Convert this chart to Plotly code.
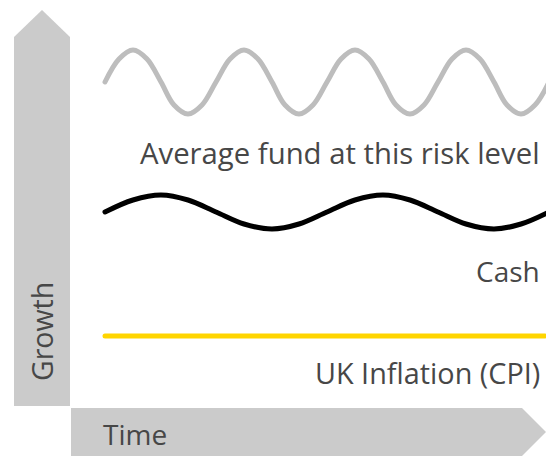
import plotly.graph_objects as go

# ---- data (pixel-based units, y grows upward) ----
fund_x = [105, 119, 133, 147, 161, 174, 188, 202, 216, 230, 244, 258, 272, 285, 299, 313,
          327, 341, 355, 369, 383, 396, 410, 424, 438, 452, 466, 480, 494, 507, 521, 535, 549]
fund_y = [375, 398, 407, 398, 375, 352, 343, 352,
          375, 398, 407, 398, 375, 352, 343, 352,
          375, 398, 407, 398, 375, 352, 343, 352,
          375, 398, 407, 398, 375, 352, 343, 352, 375]

cash_x = [105, 133, 161, 188, 216, 244, 272, 299, 327, 355, 383, 410, 438, 466, 494, 521, 549]
cash_y = [245, 257, 262, 257, 245, 233, 228, 233,
          245, 257, 262, 257, 245, 233, 228, 233, 245]

cpi_x = [105, 545]
cpi_y = [121, 121]

labels = ["Average fund at this risk level", "Cash", "UK Inflation (CPI)"]
axis_labels = ["Growth", "Time"]

W, H = 546, 457
TEXT = "#474747"
ARROW = "#cbcbcb"
FONT = "Open Sans"

fig = go.Figure()

fig.add_trace(go.Scatter(x=fund_x, y=fund_y, mode="lines",
                         line=dict(color="#bdbdbd", width=5, shape="spline", smoothing=1.0),
                         hoverinfo="skip", showlegend=False))
fig.add_trace(go.Scatter(x=cash_x, y=cash_y, mode="lines",
                         line=dict(color="#000000", width=5, shape="spline", smoothing=1.0),
                         hoverinfo="skip", showlegend=False))
fig.add_trace(go.Scatter(x=cpi_x, y=cpi_y, mode="lines",
                         line=dict(color="#ffd500", width=5),
                         hoverinfo="skip", showlegend=False))

# arrows (decorations), in axis coordinates (y up)
def py(v):
    return H - v

vert = (f"M 14 {py(406)} L 14 {py(37)} L 42 {py(10)} L 70 {py(37)} L 70 {py(406)} Z")
horiz = (f"M 71 {py(408)} L 522 {py(408)} L 546 {py(432)} L 522 {py(456)} L 71 {py(456)} Z")
for p in (vert, horiz):
    fig.add_shape(type="path", path=p, xref="x", yref="y",
                  fillcolor=ARROW, line=dict(width=0), layer="below")

label_pos = [(542, py(152.5)), (542, py(271)), (542, py(372.5))]
label_sizes = [29.3, 28, 28.8]
for txt, (x, y), s in zip(labels, label_pos, label_sizes):
    fig.add_annotation(x=x, y=y, xref="x", yref="y", text=txt, showarrow=False,
                       xanchor="right", yanchor="middle",
                       font=dict(family=FONT, size=s, color=TEXT))

fig.add_annotation(x=41.5, y=py(331.5), xref="x", yref="y", text=axis_labels[0],
                   showarrow=False, textangle=-90, xanchor="center", yanchor="middle",
                   font=dict(family=FONT, size=28.5, color=TEXT))
fig.add_annotation(x=101, y=py(434), xref="x", yref="y", text=axis_labels[1],
                   showarrow=False, xanchor="left", yanchor="middle",
                   font=dict(family=FONT, size=28, color=TEXT))

fig.update_layout(
    width=W, height=H,
    margin=dict(l=0, r=0, t=0, b=0),
    paper_bgcolor="white", plot_bgcolor="white",
    xaxis=dict(range=[0, W], visible=False, fixedrange=True),
    yaxis=dict(range=[0, H], visible=False, fixedrange=True),
    showlegend=False,
)

post = ("document.body.style.margin='0';document.body.style.overflow='hidden';"
        "document.querySelectorAll('.js-line').forEach(function(p){"
        "p.style.strokeLinecap='round';p.style.strokeLinejoin='round';});")

fig.write_html("out.html", config={"displayModeBar": False}, post_script=post)
